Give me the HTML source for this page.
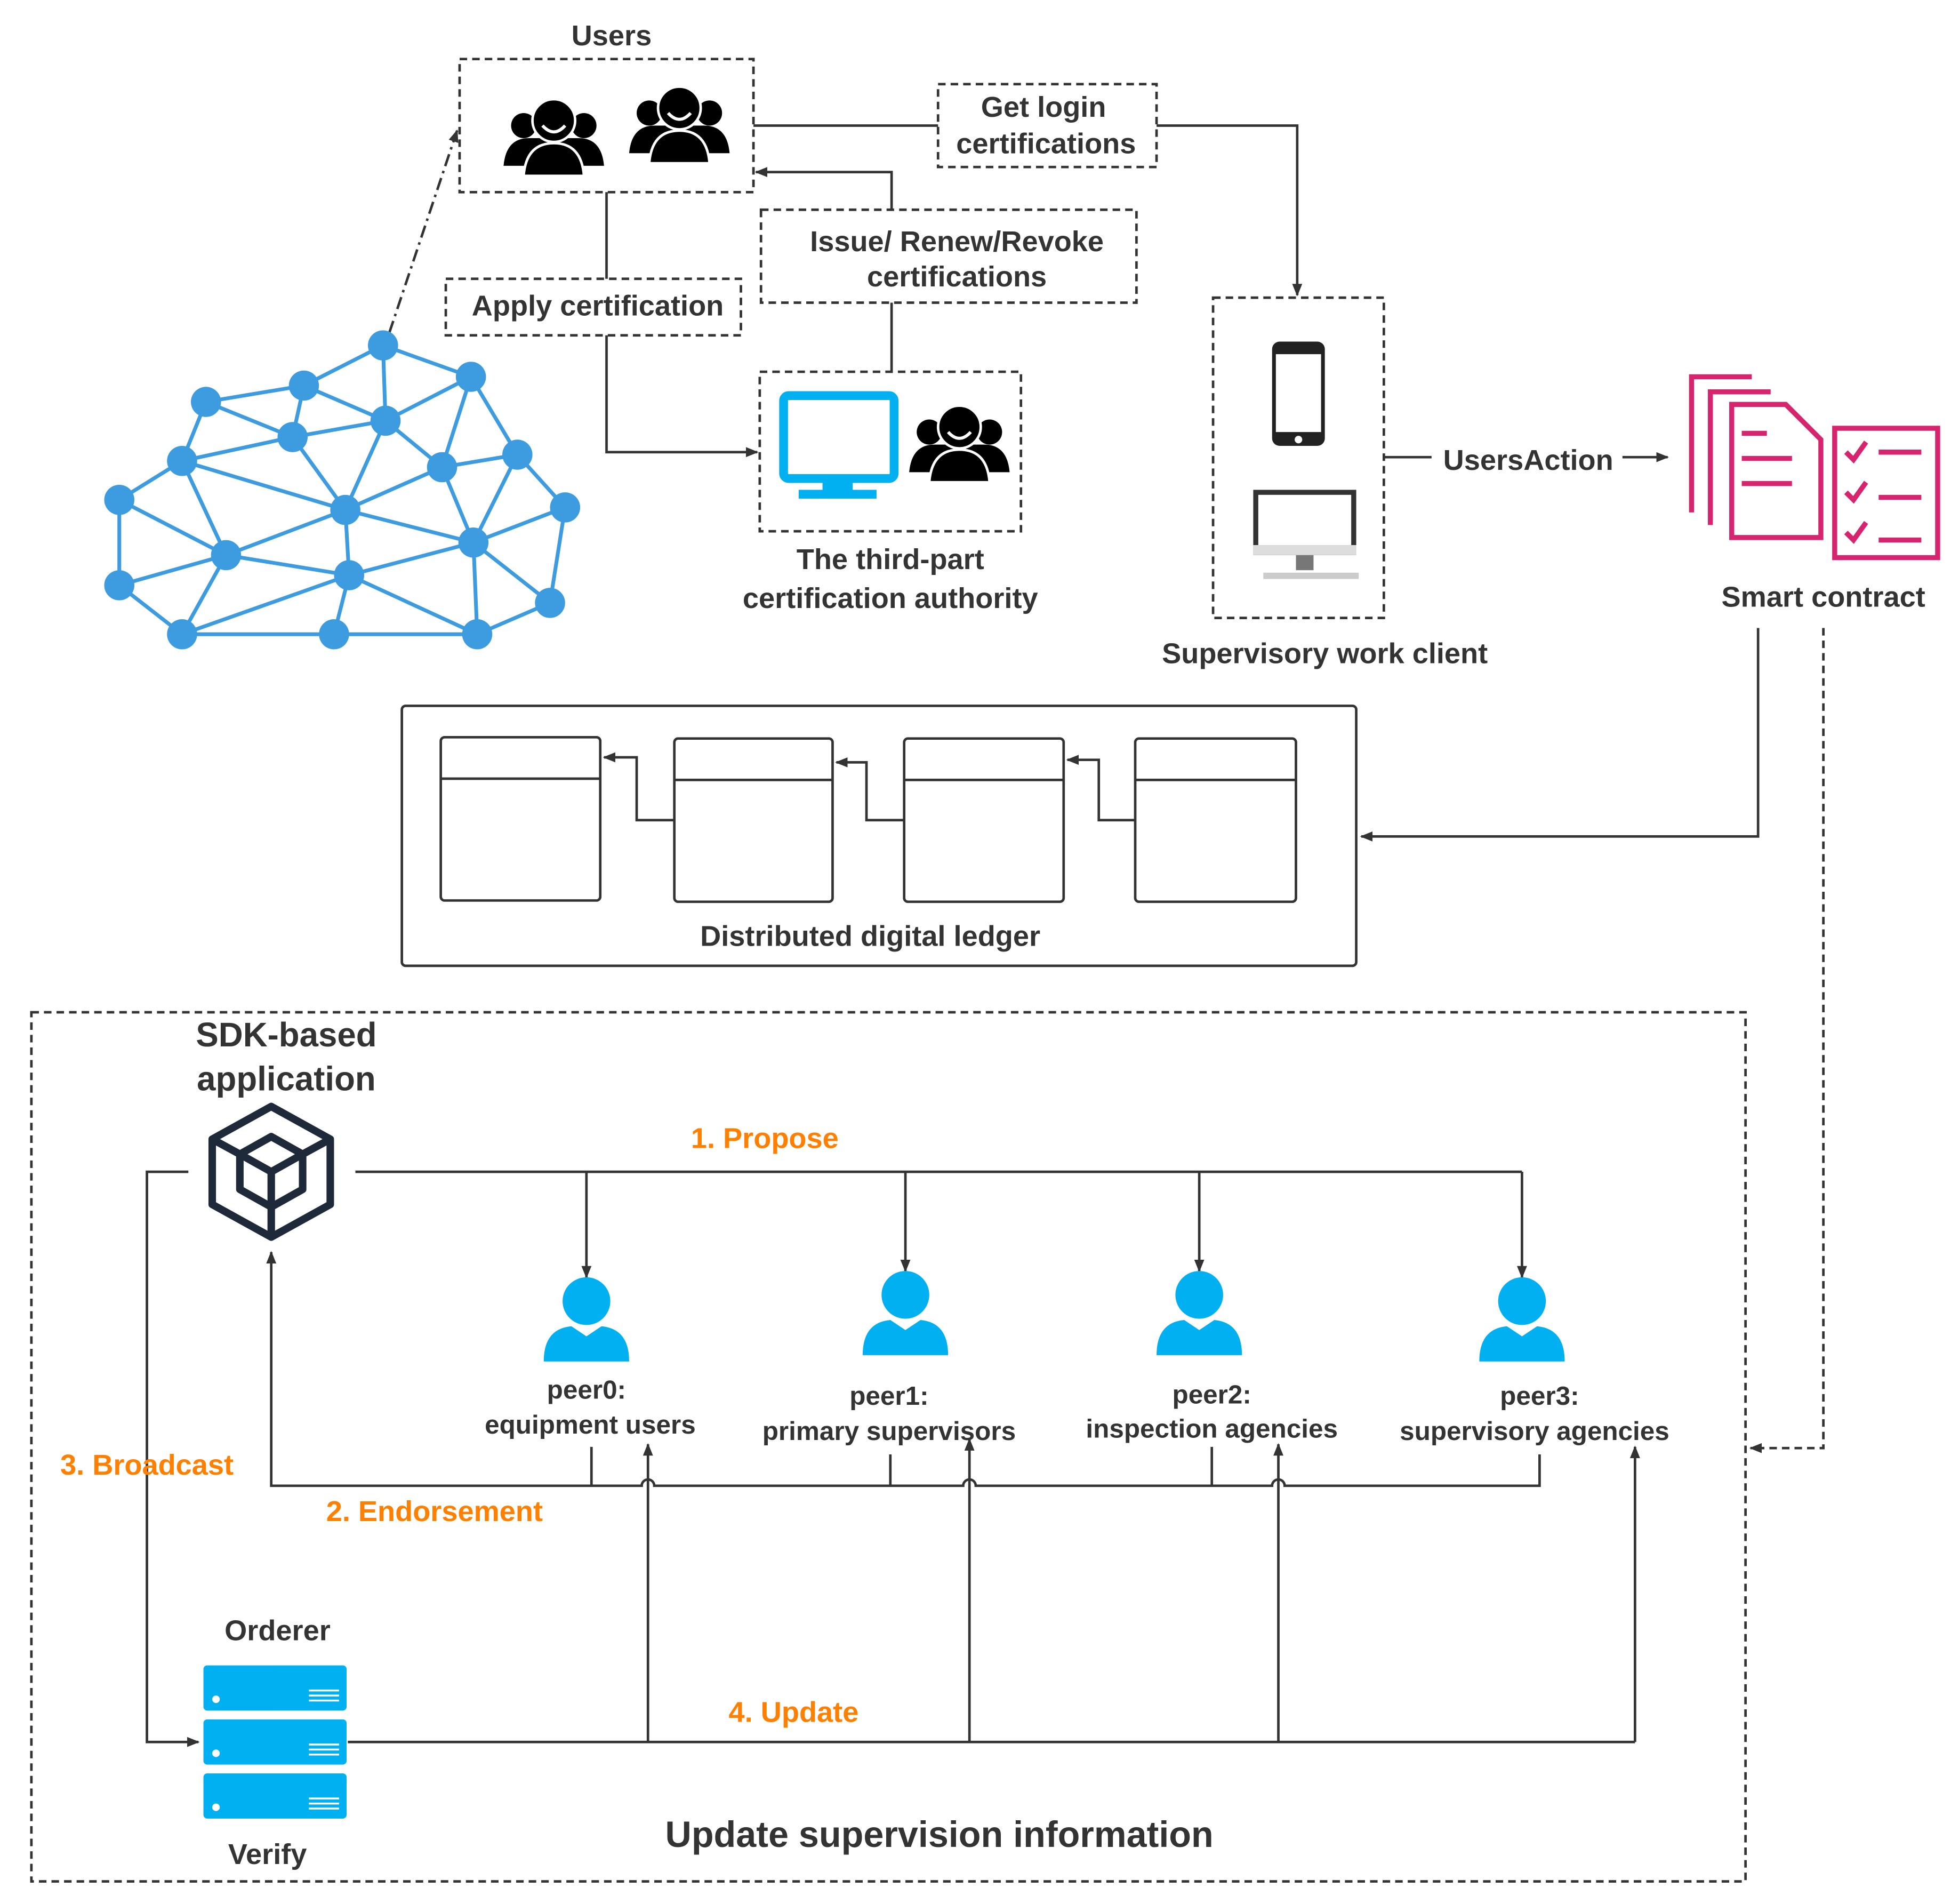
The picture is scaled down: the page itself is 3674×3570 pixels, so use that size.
<!DOCTYPE html>
<html><head><meta charset="utf-8"><style>
html,body{margin:0;padding:0;background:#fff}
svg{display:block}
text{font-family:"Liberation Sans",sans-serif;font-weight:bold;fill:#333;text-anchor:middle;dominant-baseline:middle}
.o{fill:#ff7f00}
</style></head><body>
<svg width="3674" height="3570" viewBox="0 0 1560 1516" preserveAspectRatio="none" xmlns="http://www.w3.org/2000/svg">
<defs>
<marker id="a" markerWidth="10" markerHeight="8" refX="9" refY="4" orient="auto" markerUnits="userSpaceOnUse"><path d="M0,0 L10,4 L0,8 Z" fill="#333"/></marker>
<g id="grp">
<circle cx="-24" cy="-8" r="10" fill="#000"/><circle cx="24" cy="-8" r="10" fill="#000"/>
<path d="M-40,24 Q-38,2 -20,2 L20,2 Q38,2 40,24 Z" fill="#000"/>
<path d="M-24,32 Q-22,6 0,6 Q22,6 24,32 Z" fill="#000" stroke="#fff" stroke-width="2"/>
<circle cx="0" cy="-12" r="17" fill="#000" stroke="#fff" stroke-width="2"/>
<path d="M-9,-8 Q0,2 9,-8" stroke="#fff" stroke-width="2.5" fill="none"/>
</g>
<g id="peer" fill="#00b0f0"><circle cx="0" cy="-16" r="19"/><path d="M-34,32 Q-34,6 -12,4 L0,12 L12,4 Q34,6 34,32 Z"/></g>
<g id="srv"><rect x="0" y="0" width="114" height="36" rx="3" fill="#00b0f0"/><circle cx="10" cy="27" r="3" fill="#fff"/><path d="M84,20 h24 M84,24 h24 M84,28 h24" stroke="#fff" stroke-width="1.5"/></g>
</defs>
<g fill="none" stroke="#333" stroke-width="2">
<g stroke-dasharray="6,4">
<rect x="366" y="47" width="234" height="106"/>
<rect x="747" y="67" width="174" height="66"/>
<rect x="606" y="167" width="299" height="74"/>
<rect x="355" y="222" width="235" height="45"/>
<rect x="605" y="296" width="208" height="127"/>
<rect x="966" y="237" width="136" height="255"/>
<rect x="25" y="806" width="1365" height="692"/>
<path d="M1452,500 V1153 H1394" marker-end="url(#a)"/>
</g>
<path d="M310,265 L364,104" stroke-dasharray="10,4,2,4" marker-end="url(#a)"/>
<path d="M600,100 H747"/>
<path d="M921,100 H1033 V235" marker-end="url(#a)"/>
<path d="M710,167 V137 H602" marker-end="url(#a)"/>
<path d="M710,241 V296"/>
<path d="M483,153 V222"/>
<path d="M483,267 V360 H603" marker-end="url(#a)"/>
<path d="M1102,364 H1140"/>
<path d="M1292,364 H1328" marker-end="url(#a)"/>
<path d="M1400,500 V666 H1084" marker-end="url(#a)"/>
<rect x="320" y="562" width="760" height="207" rx="3"/>
<rect x="351" y="587" width="127" height="130" rx="3"/><path d="M351,620 H478"/>
<rect x="537" y="588" width="126" height="130" rx="3"/><path d="M537,621 H663"/>
<rect x="720" y="588" width="127" height="130" rx="3"/><path d="M720,621 H847"/>
<rect x="904" y="588" width="128" height="130" rx="3"/><path d="M904,621 H1032"/>
<path d="M537,653 H507 V603 H481" marker-end="url(#a)"/>
<path d="M720,653 H690 V607 H666" marker-end="url(#a)"/>
<path d="M904,653 H875 V605 H850" marker-end="url(#a)"/>
<path d="M283,933 H1212"/>
<path d="M467,933 V1017" marker-end="url(#a)"/>
<path d="M721,933 V1012" marker-end="url(#a)"/>
<path d="M955,933 V1012" marker-end="url(#a)"/>
<path d="M1212,933 V1017" marker-end="url(#a)"/>
<path d="M1226,1158 V1183 H1023 a5,5 0 0 0 -10,0 H777 a5,5 0 0 0 -10,0 H521 a5,5 0 0 0 -10,0 H216 V997" marker-end="url(#a)"/>
<path d="M471,1152 V1183 M709,1158 V1183 M965,1152 V1183"/>
<path d="M150,933 H117 V1387 H158" marker-end="url(#a)"/>
<path d="M277,1387 H1302"/>
<path d="M516,1387 V1150" marker-end="url(#a)"/>
<path d="M772,1387 V1146" marker-end="url(#a)"/>
<path d="M1018,1387 V1150" marker-end="url(#a)"/>
<path d="M1302,1387 V1152" marker-end="url(#a)"/>
</g>
<g stroke="#3d9be0" stroke-width="3" fill="#3d9be0">
<path fill="none" d="M305,275 L375,300 L412,362 L450,404 L438,480 L380,505 L266,505 L145,505 L95,466 L95,398 L145,367 L164,320 L242,307 L305,275 L307,335 L242,307 L233,348 L164,320 M233,348 L307,335 L375,300 L352,372 L307,335 M352,372 L412,362 L377,432 L450,404 M145,367 L233,348 L275,406 L307,335 M145,367 L275,406 L352,372 L377,432 L275,406 L180,442 L145,367 M95,398 L180,442 L95,466 M180,442 L278,458 L275,406 M180,442 L145,505 L278,458 L377,432 L438,480 M278,458 L266,505 M278,458 L380,505 L377,432 M377,432 L412,362 M352,372 L377,432"/>
<g stroke="none">
<circle cx="305" cy="275" r="12"/><circle cx="375" cy="300" r="12"/><circle cx="242" cy="307" r="12"/><circle cx="164" cy="320" r="12"/><circle cx="307" cy="335" r="12"/><circle cx="233" cy="348" r="12"/><circle cx="412" cy="362" r="12"/><circle cx="145" cy="367" r="12"/><circle cx="352" cy="372" r="12"/><circle cx="450" cy="404" r="12"/><circle cx="95" cy="398" r="12"/><circle cx="275" cy="406" r="12"/><circle cx="377" cy="432" r="12"/><circle cx="180" cy="442" r="12"/><circle cx="278" cy="458" r="12"/><circle cx="95" cy="466" r="12"/><circle cx="438" cy="480" r="12"/><circle cx="145" cy="505" r="12"/><circle cx="266" cy="505" r="12"/><circle cx="380" cy="505" r="12"/>
</g></g>
<use href="#grp" x="441" y="108"/><use href="#grp" x="541" y="98"/><use href="#grp" x="764" y="352"/>
<rect x="624" y="315" width="88" height="66" rx="4" fill="none" stroke="#00b0f0" stroke-width="7"/>
<rect x="655" y="381" width="24" height="10" fill="#00b0f0"/><rect x="636" y="390" width="62" height="7" fill="#00b0f0"/>
<rect x="1013" y="272" width="42" height="83" rx="6" fill="#222"/><rect x="1016" y="282" width="36" height="62" fill="#fff"/><circle cx="1034" cy="350" r="3" fill="#fff"/>
<rect x="998" y="390" width="82" height="52" fill="#333"/><rect x="1002" y="394" width="74" height="40" fill="#fff"/><rect x="998" y="434" width="82" height="8" fill="#ddd"/><rect x="1032" y="442" width="14" height="12" fill="#777"/><rect x="1006" y="456" width="76" height="5" fill="#ccc"/>
<g fill="none" stroke="#d6246e" stroke-width="4">
<path d="M1347,408 V300 H1395"/><path d="M1362,418 V312 H1410"/>
<path d="M1379,428 V322 H1422 L1450,350 V428 Z"/>
<path d="M1387,345 h20 M1387,365 h40 M1387,385 h40"/>
<rect x="1461" y="341" width="82" height="103"/>
<path d="M1470,360 l6,6 l10,-14 M1470,392 l6,6 l10,-14 M1470,424 l6,6 l10,-14 M1496,360 h34 M1496,396 h34 M1496,430 h34"/>
</g>
<g transform="translate(216,933)" fill="none" stroke="#1e2a3a" stroke-width="6" stroke-linejoin="round">
<path d="M0,-52 L47,-26 L47,26 L0,52 L-47,26 L-47,-26 Z"/>
<path d="M0,-28 L25,-14 L25,14 L0,28 L-25,14 L-25,-14 Z M-25,-14 L0,0 L25,-14 M0,0 V28 M-47,-26 L-25,-14 M47,-26 L25,-14 M0,52 V28"/>
</g>
<use href="#peer" x="467" y="1052"/><use href="#peer" x="721" y="1047"/><use href="#peer" x="955" y="1047"/><use href="#peer" x="1212" y="1052"/>
<use href="#srv" x="162" y="1326"/><use href="#srv" x="162" y="1369"/><use href="#srv" x="162" y="1412"/>
<g font-size="23">
<text x="487" y="30">Users</text>
<text x="831" y="87">Get login</text><text x="833" y="116">certifications</text>
<text x="762" y="194">Issue/ Renew/Revoke</text><text x="762" y="222">certifications</text>
<text x="476" y="245">Apply certification</text>
<text x="709" y="447">The third-part</text><text x="709" y="478">certification authority</text>
<text x="1055" y="522">Supervisory work client</text>
<text x="1217" y="368">UsersAction</text>
<text x="1452" y="477">Smart contract</text>
<text x="693" y="747">Distributed digital ledger</text>
<text x="228" y="826" font-size="27">SDK-based</text><text x="228" y="861" font-size="27">application</text>
<text x="609" y="908" class="o">1. Propose</text>
<text x="467" y="1108" font-size="21">peer0:</text><text x="470" y="1136" font-size="21">equipment users</text>
<text x="708" y="1113" font-size="21">peer1:</text><text x="708" y="1141" font-size="21">primary supervisors</text>
<text x="965" y="1112" font-size="21">peer2:</text><text x="965" y="1139" font-size="21">inspection agencies</text>
<text x="1226" y="1113" font-size="21">peer3:</text><text x="1222" y="1141" font-size="21">supervisory agencies</text>
<text x="117" y="1168" class="o">3. Broadcast</text>
<text x="346" y="1205" class="o">2. Endorsement</text>
<text x="632" y="1365" class="o">4. Update</text>
<text x="221" y="1300">Orderer</text>
<text x="213" y="1478">Verify</text>
<text x="748" y="1463" font-size="29">Update supervision information</text>
</g>
</svg>
</body></html>
